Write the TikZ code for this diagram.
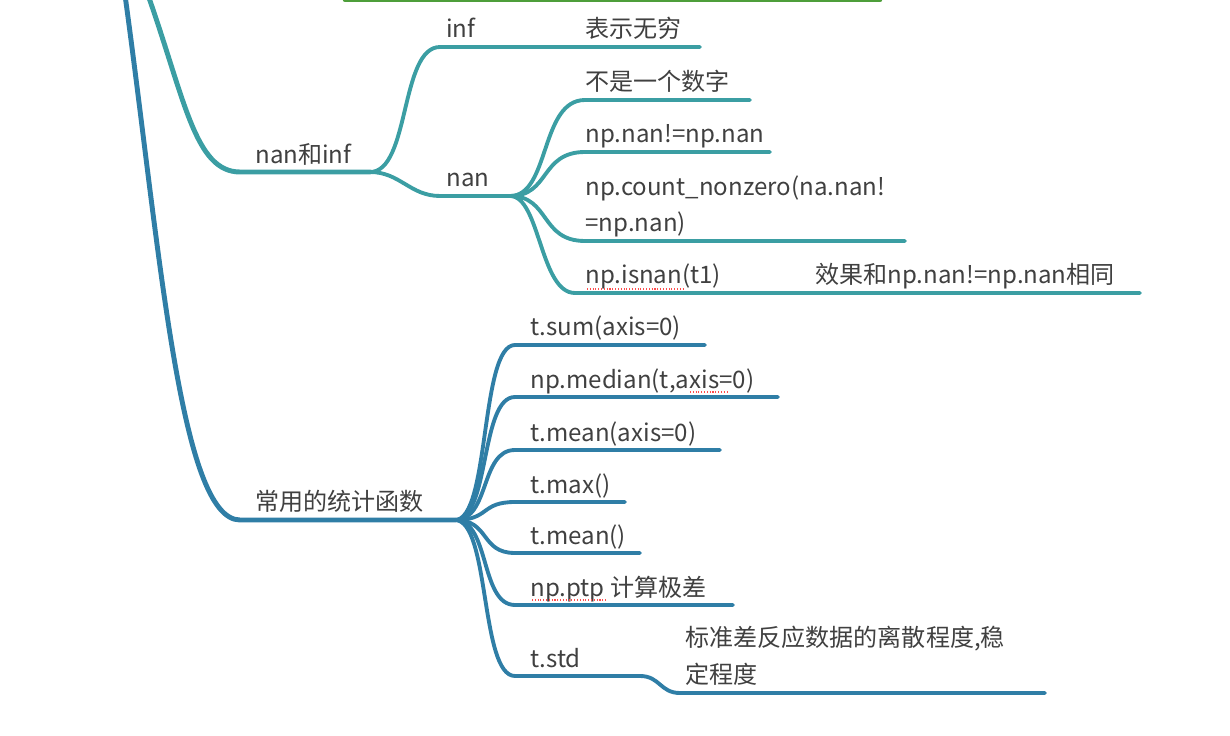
\documentclass[tikz,border=0pt]{standalone}
\usepackage{fontspec}
\setmainfont{Noto Sans CJK SC}[Scale=1]
\usetikzlibrary{positioning}
\definecolor{tealb}{HTML}{3B9EA3}
\definecolor{blueb}{HTML}{2F7EA6}
\definecolor{greenb}{HTML}{4E9E3A}
\begin{document}
\begin{tikzpicture}[x=0.02cm,y=-0.02cm]
  \tikzstyle{every node}+=[inner sep=0pt,anchor=base west,font=\fontsize{13.7}{16}\selectfont\color{black!75}]
  \tikzstyle{tb}=[draw=tealb,line width=2.2pt,line cap=round]
  \tikzstyle{bb}=[draw=blueb,line width=2.2pt,line cap=round]
  \tikzstyle{sp}=[draw=red!70,densely dotted,line width=0.6pt]
  \useasboundingbox (0,0) rectangle (1230,736);
  % top edge
  \coordinate (gs) at (345,0); \coordinate (ge) at (880,0);
  \draw [draw=greenb,line width=2.5pt,line cap=round] (gs) -- (ge);
  \coordinate (rootb) at (125,-5);
  \coordinate (roott) at (148,-5);
  % nan and inf
  \coordinate (ni0) at (240,172); \coordinate (ni1) at (370,172);
  \draw [tb,line width=2.8pt] (roott) .. controls (185,100) and (195,172) .. (ni0) -- (ni1);
  \node at (255,164) {nan和inf};
  \coordinate (inf0) at (440,47); \coordinate (inf1) at (700,47);
  \draw [tb] (ni1) .. controls (410,172) and (400,47) .. (inf0) -- (inf1);
  \node at (446,38) {inf};
  \node at (585,38) {表示无穷};
  \coordinate (nan0) at (440,196); \coordinate (nan1) at (510,196);
  \draw [tb] (ni1) .. controls (400,172) and (410,196) .. (nan0) -- (nan1);
  \node at (446,187) {nan};
  \coordinate (a0) at (585,100); \coordinate (a1) at (750,100);
  \coordinate (b0) at (585,152); \coordinate (b1) at (770,152);
  \coordinate (c0) at (585,241); \coordinate (c1) at (905,241);
  \coordinate (d0) at (575,293); \coordinate (d1) at (730,293); \coordinate (d2) at (1140,293);
  \draw [tb] (nan1) .. controls (550,196) and (540,100) .. (a0) -- (a1);
  \draw [tb] (nan1) .. controls (550,196) and (540,152) .. (b0) -- (b1);
  \draw [tb] (nan1) .. controls (550,196) and (540,241) .. (c0) -- (c1);
  \draw [tb] (nan1) .. controls (540,196) and (540,293) .. (d0) -- (d1) -- (d2);
  \node at (585,91) {不是一个数字};
  \node at (585,143) {np.nan!=np.nan};
  \node at (585,196) {np.count\_nonzero(na.nan!};
  \node at (585,232) {=np.nan)};
  \node at (585,284) {np.isnan(t1)};
  \draw [sp] (587,289) -- (685,289);
  \node at (815,284) {效果和np.nan!=np.nan相同};
  % statistics
  \coordinate (st0) at (240,520); \coordinate (st1) at (455,520);
  \draw [bb,line width=2.8pt] (rootb) .. controls (160,250) and (180,520) .. (st0) -- (st1);
  \node at (255,510) {常用的统计函数};
  \foreach \n/\y/\e/\t in {s1/345/705/{t.sum(axis=0)}, s2/397/778/{np.median(t,axis=0)},
      s3/450/720/{t.mean(axis=0)}, s4/502/625/{t.max()}, s5/553/640/{t.mean()},
      s6/605/733/{np.ptp\ 计算极差}, s7/676/640/{t.std}} {
    \coordinate (\n0) at (515,\y); \coordinate (\n1) at (\e,\y);
    \draw [bb] (st1) .. controls (490,520) and (480,\y) .. (\n0) -- (\n1);
    \node at (530,\y-9) {\t};
  }
  \draw [sp] (690,392) -- (728,392);
  \draw [sp] (532,600) -- (606,600);
  \coordinate (sd0) at (680,693); \coordinate (sd1) at (1045,693);
  \draw [bb] (s71) .. controls (660,676) and (660,693) .. (sd0) -- (sd1);
  \node at (685,646) {标准差反应数据的离散程度,稳};
  \node at (685,683) {定程度};
\end{tikzpicture}
\end{document}
